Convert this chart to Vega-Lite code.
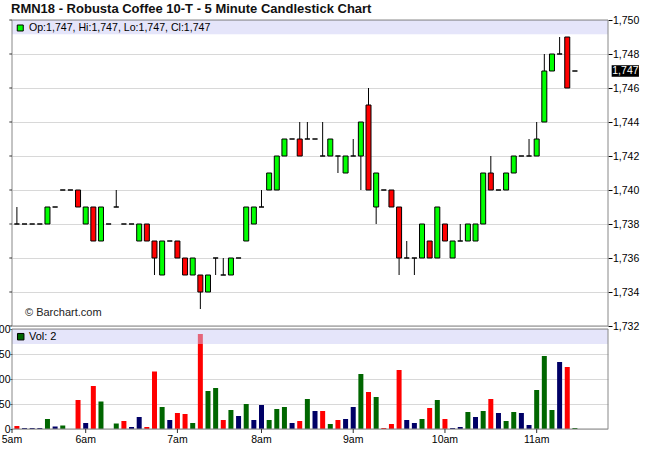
{
  "$schema": "https://vega.github.io/schema/vega-lite/v6.json",
  "width": 596,
  "height": 409,
  "autosize": {"type": "none"},
  "padding": {"left": 12, "top": 20, "right": 42, "bottom": 41},
  "config": {"view": {"stroke": null}, "font": "Liberation Sans"},
  "resolve": {"scale": {"y": "independent"}},
  "datasets": {
    "hours": [
      {"slot": -0.64, "t": "5am"},
      {"slot": 9, "t": "6am"},
      {"slot": 21, "t": "7am"},
      {"slot": 32, "t": "8am"},
      {"slot": 44, "t": "9am"},
      {"slot": 56, "t": "10am"},
      {"slot": 68, "t": "11am"}
    ],
    "pticks": [
      {"p": 1732}, {"p": 1734}, {"p": 1736}, {"p": 1738}, {"p": 1740},
      {"p": 1742}, {"p": 1744}, {"p": 1746}, {"p": 1748}, {"p": 1750}
    ]
  },
  "data": {"values": [
    {"i":0,"o":1738,"h":1739,"l":1738,"c":1738,"v":6,"d":"down"},
    {"i":1,"o":1738,"h":1738,"l":1738,"c":1738,"v":2,"d":"flat"},
    {"i":2,"o":1738,"h":1738,"l":1738,"c":1738,"v":2,"d":"flat"},
    {"i":3,"o":1738,"h":1738,"l":1738,"c":1738,"v":2,"d":"flat"},
    {"i":4,"o":1738,"h":1739,"l":1738,"c":1739,"v":20,"d":"up"},
    {"i":5,"o":1739,"h":1739,"l":1739,"c":1739,"v":5,"d":"flat"},
    {"i":6,"o":1740,"h":1740,"l":1740,"c":1740,"v":7,"d":"up"},
    {"i":7,"o":1740,"h":1740,"l":1740,"c":1740,"v":0,"d":"flat"},
    {"i":8,"o":1740,"h":1740,"l":1739,"c":1739,"v":58,"d":"down"},
    {"i":9,"o":1738,"h":1739,"l":1738,"c":1739,"v":12,"d":"flat"},
    {"i":10,"o":1739,"h":1739,"l":1737,"c":1737,"v":86,"d":"down"},
    {"i":11,"o":1737,"h":1739,"l":1737,"c":1739,"v":55,"d":"up"},
    {"i":12,"o":1738,"h":1738,"l":1738,"c":1738,"v":0,"d":"down"},
    {"i":13,"o":1739,"h":1740,"l":1739,"c":1739,"v":11,"d":"up"},
    {"i":14,"o":1738,"h":1738,"l":1738,"c":1738,"v":16,"d":"down"},
    {"i":15,"o":1738,"h":1738,"l":1738,"c":1738,"v":4,"d":"flat"},
    {"i":16,"o":1737,"h":1738,"l":1737,"c":1738,"v":24,"d":"flat"},
    {"i":17,"o":1738,"h":1738,"l":1737,"c":1737,"v":4,"d":"down"},
    {"i":18,"o":1737,"h":1737,"l":1735,"c":1736,"v":115,"d":"down"},
    {"i":19,"o":1735,"h":1737,"l":1735,"c":1737,"v":44,"d":"up"},
    {"i":20,"o":1737,"h":1737,"l":1737,"c":1737,"v":18,"d":"flat"},
    {"i":21,"o":1737,"h":1737,"l":1736,"c":1736,"v":32,"d":"down"},
    {"i":22,"o":1736,"h":1736,"l":1735,"c":1735,"v":30,"d":"down"},
    {"i":23,"o":1735,"h":1736,"l":1735,"c":1736,"v":12,"d":"up"},
    {"i":24,"o":1735,"h":1735,"l":1733,"c":1734,"v":190,"d":"down"},
    {"i":25,"o":1734,"h":1735,"l":1734,"c":1735,"v":76,"d":"up"},
    {"i":26,"o":1736,"h":1736,"l":1735,"c":1736,"v":82,"d":"up"},
    {"i":27,"o":1735,"h":1736,"l":1735,"c":1735,"v":18,"d":"down"},
    {"i":28,"o":1735,"h":1736,"l":1735,"c":1736,"v":38,"d":"up"},
    {"i":29,"o":1736,"h":1736,"l":1736,"c":1736,"v":26,"d":"flat"},
    {"i":30,"o":1737,"h":1739,"l":1737,"c":1739,"v":50,"d":"up"},
    {"i":31,"o":1738,"h":1739,"l":1738,"c":1739,"v":18,"d":"flat"},
    {"i":32,"o":1739,"h":1740,"l":1739,"c":1739,"v":48,"d":"flat"},
    {"i":33,"o":1740,"h":1741,"l":1740,"c":1741,"v":18,"d":"up"},
    {"i":34,"o":1740,"h":1742,"l":1740,"c":1742,"v":40,"d":"up"},
    {"i":35,"o":1742,"h":1743,"l":1742,"c":1743,"v":44,"d":"up"},
    {"i":36,"o":1743,"h":1743,"l":1743,"c":1743,"v":12,"d":"flat"},
    {"i":37,"o":1743,"h":1744,"l":1742,"c":1742,"v":16,"d":"down"},
    {"i":38,"o":1743,"h":1744,"l":1743,"c":1743,"v":60,"d":"up"},
    {"i":39,"o":1743,"h":1743,"l":1743,"c":1743,"v":36,"d":"flat"},
    {"i":40,"o":1742,"h":1744,"l":1742,"c":1742,"v":36,"d":"down"},
    {"i":41,"o":1742,"h":1743,"l":1742,"c":1743,"v":10,"d":"up"},
    {"i":42,"o":1742,"h":1742,"l":1741,"c":1742,"v":18,"d":"down"},
    {"i":43,"o":1741,"h":1742,"l":1741,"c":1742,"v":20,"d":"flat"},
    {"i":44,"o":1742,"h":1743,"l":1742,"c":1742,"v":44,"d":"flat"},
    {"i":45,"o":1742,"h":1744,"l":1740,"c":1744,"v":110,"d":"up"},
    {"i":46,"o":1745,"h":1746,"l":1740,"c":1740,"v":74,"d":"down"},
    {"i":47,"o":1739,"h":1741,"l":1738,"c":1741,"v":64,"d":"up"},
    {"i":48,"o":1740,"h":1740,"l":1740,"c":1740,"v":2,"d":"down"},
    {"i":49,"o":1740,"h":1740,"l":1739,"c":1739,"v":10,"d":"down"},
    {"i":50,"o":1739,"h":1739,"l":1735,"c":1736,"v":118,"d":"down"},
    {"i":51,"o":1736,"h":1737,"l":1736,"c":1736,"v":18,"d":"flat"},
    {"i":52,"o":1736,"h":1736,"l":1735,"c":1736,"v":12,"d":"flat"},
    {"i":53,"o":1736,"h":1738,"l":1736,"c":1738,"v":20,"d":"up"},
    {"i":54,"o":1737,"h":1737,"l":1736,"c":1736,"v":42,"d":"down"},
    {"i":55,"o":1736,"h":1739,"l":1736,"c":1739,"v":58,"d":"up"},
    {"i":56,"o":1738,"h":1738,"l":1737,"c":1737,"v":20,"d":"down"},
    {"i":57,"o":1736,"h":1737,"l":1736,"c":1737,"v":2,"d":"flat"},
    {"i":58,"o":1737,"h":1738,"l":1737,"c":1737,"v":4,"d":"flat"},
    {"i":59,"o":1737,"h":1738,"l":1737,"c":1738,"v":34,"d":"up"},
    {"i":60,"o":1737,"h":1738,"l":1737,"c":1738,"v":24,"d":"flat"},
    {"i":61,"o":1738,"h":1741,"l":1738,"c":1741,"v":36,"d":"up"},
    {"i":62,"o":1741,"h":1742,"l":1740,"c":1740,"v":60,"d":"down"},
    {"i":63,"o":1740,"h":1740,"l":1740,"c":1740,"v":32,"d":"flat"},
    {"i":64,"o":1740,"h":1741,"l":1740,"c":1741,"v":16,"d":"up"},
    {"i":65,"o":1741,"h":1742,"l":1741,"c":1742,"v":34,"d":"up"},
    {"i":66,"o":1742,"h":1742,"l":1742,"c":1742,"v":32,"d":"flat"},
    {"i":67,"o":1742,"h":1743,"l":1742,"c":1742,"v":8,"d":"flat"},
    {"i":68,"o":1742,"h":1744,"l":1742,"c":1743,"v":78,"d":"up"},
    {"i":69,"o":1744,"h":1748,"l":1744,"c":1747,"v":146,"d":"up"},
    {"i":70,"o":1747,"h":1748,"l":1747,"c":1748,"v":38,"d":"up"},
    {"i":71,"o":1748,"h":1749,"l":1748,"c":1748,"v":134,"d":"flat"},
    {"i":72,"o":1749,"h":1749,"l":1746,"c":1746,"v":124,"d":"down"},
    {"i":73,"o":1747,"h":1747,"l":1747,"c":1747,"v":2,"d":"up"}
  ]},
  "layer": [
    {
      "mark": {"type": "rule", "color": "#000", "strokeWidth": 1},
      "encoding": {
        "x": {"field": "i", "type": "quantitative", "scale": {"domain": [-0.64, 77.33], "nice": false, "zero": false, "padding": 0},
          "axis": {"orient": "bottom", "values": [-0.64, 9, 21, 32, 44, 56, 68], "title": null, "grid": true, "gridColor": "#d8d8d8", "domain": false, "ticks": false, "labels": false}},
        "y": {"field": "l", "type": "quantitative", "scale": {"domain": [1725.9412, 1750], "nice": false, "zero": false},
          "axis": {"orient": "right", "values": [1732, 1734, 1736, 1738, 1740, 1742, 1744, 1746, 1748, 1750], "format": ",", "title": null, "grid": true, "gridColor": "#d8d8d8", "domain": false, "tickSize": 4, "tickColor": "#000", "labelPadding": 0.5, "labelFont": "Liberation Sans", "labelFontSize": 10.5, "labelColor": "#000", "labelOverlap": false}},
        "y2": {"field": "h"}
      }
    },
    {
      "mark": {"type": "bar", "size": 5, "stroke": "#000", "strokeWidth": 1},
      "encoding": {
        "x": {"field": "i", "type": "quantitative", "scale": {"domain": [-0.64, 77.33], "nice": false, "zero": false, "padding": 0}, "axis": null},
        "y": {"field": "o", "type": "quantitative", "scale": {"domain": [1725.9412, 1750], "nice": false, "zero": false}, "axis": null},
        "y2": {"field": "c"},
        "fill": {"condition": {"test": "datum.c > datum.o", "value": "#00FF00"}, "value": "#FF0000"}
      }
    },
    {
      "mark": {"type": "bar", "size": 5},
      "encoding": {
        "x": {"field": "i", "type": "quantitative", "scale": {"domain": [-0.64, 77.33], "nice": false, "zero": false, "padding": 0}, "axis": null},
        "y": {"field": "v", "type": "quantitative", "stack": null, "scale": {"domain": [0, 818], "nice": false},
          "axis": {"orient": "left", "values": [0, 50, 100, 150, 200], "format": "d", "title": null, "grid": true, "gridColor": "#d8d8d8", "domain": false, "tickSize": 2, "tickColor": "#333", "labelPadding": 0, "labelFont": "Liberation Sans", "labelFontSize": 10.5, "labelColor": "#000", "labelOverlap": false}},
        "color": {"field": "d", "type": "nominal", "scale": {"domain": ["up", "down", "flat"], "range": ["#006600", "#FF0000", "#000066"]}, "legend": null}
      }
    },
    {
      "data": {"values": [{"panel": "price"}]},
      "mark": {"type": "rect", "fill": "#CBCBF5", "opacity": 0.5},
      "encoding": {
        "x": {"datum": -0.64, "type": "quantitative", "scale": {"domain": [-0.64, 77.33], "nice": false, "zero": false, "padding": 0}, "axis": null},
        "x2": {"datum": 77.33},
        "y": {"datum": 1750, "type": "quantitative", "scale": {"domain": [1725.9412, 1750], "nice": false, "zero": false}, "axis": null},
        "y2": {"datum": 1749.16}
      }
    },
    {
      "data": {"values": [{"panel": "volume"}]},
      "mark": {"type": "rect", "fill": "#CBCBF5", "opacity": 0.5},
      "encoding": {
        "x": {"datum": -0.64, "type": "quantitative", "scale": {"domain": [-0.64, 77.33], "nice": false, "zero": false, "padding": 0}, "axis": null},
        "x2": {"datum": 77.33},
        "y": {"datum": 200, "type": "quantitative", "scale": {"domain": [0, 818], "nice": false}, "axis": null},
        "y2": {"datum": 170}
      }
    },
    {
      "data": {"values": [{"panel": "price"}]},
      "mark": {"type": "rect", "filled": false, "stroke": "#888", "strokeWidth": 1},
      "encoding": {
        "x": {"datum": -0.64, "type": "quantitative", "scale": {"domain": [-0.64, 77.33], "nice": false, "zero": false, "padding": 0}, "axis": null},
        "x2": {"datum": 77.33},
        "y": {"datum": 1750, "type": "quantitative", "scale": {"domain": [1725.9412, 1750], "nice": false, "zero": false}, "axis": null},
        "y2": {"datum": 1732}
      }
    },
    {
      "data": {"values": [{"panel": "volume"}]},
      "mark": {"type": "rect", "filled": false, "stroke": "#888", "strokeWidth": 1},
      "encoding": {
        "x": {"datum": -0.64, "type": "quantitative", "scale": {"domain": [-0.64, 77.33], "nice": false, "zero": false, "padding": 0}, "axis": null},
        "x2": {"datum": 77.33},
        "y": {"datum": 200, "type": "quantitative", "scale": {"domain": [0, 818], "nice": false}, "axis": null},
        "y2": {"datum": 0}
      }
    },
    {
      "data": {"name": "pticks"},
      "mark": {"type": "rule", "color": "#333", "strokeWidth": 1},
      "encoding": {
        "x": {"datum": -0.99, "type": "quantitative", "scale": {"domain": [-0.64, 77.33], "nice": false, "zero": false, "padding": 0}, "axis": null},
        "x2": {"datum": -0.64},
        "y": {"field": "p", "type": "quantitative", "scale": {"domain": [1725.9412, 1750], "nice": false, "zero": false}, "axis": null}
      }
    },
    {
      "data": {"name": "hours"},
      "mark": {"type": "rule", "color": "#333", "strokeWidth": 1},
      "encoding": {
        "x": {"field": "slot", "type": "quantitative", "scale": {"domain": [-0.64, 77.33], "nice": false, "zero": false, "padding": 0}, "axis": null},
        "y": {"datum": 0, "type": "quantitative", "scale": {"domain": [0, 818], "nice": false}, "axis": null},
        "y2": {"datum": -8}
      }
    },
    {
      "data": {"name": "hours"},
      "mark": {"type": "text", "align": "center", "baseline": "alphabetic", "font": "Liberation Sans", "fontSize": 10.5, "color": "#000"},
      "encoding": {
        "x": {"field": "slot", "type": "quantitative", "scale": {"domain": [-0.64, 77.33], "nice": false, "zero": false, "padding": 0}, "axis": null},
        "y": {"datum": -28.6, "type": "quantitative", "scale": {"domain": [0, 818], "nice": false}, "axis": null},
        "text": {"field": "t"}
      }
    },
    {
      "data": {"values": [{"label": "RMN18 - Robusta Coffee 10-T - 5 Minute Candlestick Chart"}]},
      "mark": {"type": "text", "align": "left", "baseline": "alphabetic", "font": "Liberation Sans", "fontSize": 13, "fontWeight": "bold", "color": "#111"},
      "encoding": {
        "x": {"datum": -0.77, "type": "quantitative", "scale": {"domain": [-0.64, 77.33], "nice": false, "zero": false, "padding": 0}, "axis": null},
        "y": {"datum": 1750.394, "type": "quantitative", "scale": {"domain": [1725.9412, 1750], "nice": false, "zero": false}, "axis": null},
        "text": {"field": "label"}
      }
    },
    {
      "data": {"values": [{"label": "Op:1,747, Hi:1,747, Lo:1,747, Cl:1,747"}]},
      "mark": {"type": "point", "shape": "square", "size": 36, "filled": true, "fill": "#00FF00", "stroke": "#000", "strokeWidth": 1, "opacity": 1},
      "encoding": {
        "x": {"datum": 0.44, "type": "quantitative", "scale": {"domain": [-0.64, 77.33], "nice": false, "zero": false, "padding": 0}, "axis": null},
        "y": {"datum": 1749.53, "type": "quantitative", "scale": {"domain": [1725.9412, 1750], "nice": false, "zero": false}, "axis": null}
      }
    },
    {
      "data": {"values": [{"label": "Op:1,747, Hi:1,747, Lo:1,747, Cl:1,747"}]},
      "mark": {"type": "text", "align": "left", "baseline": "middle", "font": "Liberation Sans", "fontSize": 10.6, "color": "#000"},
      "encoding": {
        "x": {"datum": 1.58, "type": "quantitative", "scale": {"domain": [-0.64, 77.33], "nice": false, "zero": false, "padding": 0}, "axis": null},
        "y": {"datum": 1749.53, "type": "quantitative", "scale": {"domain": [1725.9412, 1750], "nice": false, "zero": false}, "axis": null},
        "text": {"field": "label"}
      }
    },
    {
      "data": {"values": [{"label": "Vol: 2"}]},
      "mark": {"type": "point", "shape": "square", "size": 42, "filled": true, "fill": "#006600", "stroke": "#000", "strokeWidth": 1, "opacity": 1},
      "encoding": {
        "x": {"datum": 0.5, "type": "quantitative", "scale": {"domain": [-0.64, 77.33], "nice": false, "zero": false, "padding": 0}, "axis": null},
        "y": {"datum": 184.6, "type": "quantitative", "scale": {"domain": [0, 818], "nice": false}, "axis": null}
      }
    },
    {
      "data": {"values": [{"label": "Vol: 2"}]},
      "mark": {"type": "text", "align": "left", "baseline": "middle", "font": "Liberation Sans", "fontSize": 11, "color": "#000"},
      "encoding": {
        "x": {"datum": 1.58, "type": "quantitative", "scale": {"domain": [-0.64, 77.33], "nice": false, "zero": false, "padding": 0}, "axis": null},
        "y": {"datum": 184.6, "type": "quantitative", "scale": {"domain": [0, 818], "nice": false}, "axis": null},
        "text": {"field": "label"}
      }
    },
    {
      "data": {"values": [{"label": "© Barchart.com"}]},
      "mark": {"type": "text", "align": "left", "baseline": "middle", "font": "Liberation Sans", "fontSize": 11, "color": "#222"},
      "encoding": {
        "x": {"datum": 1.06, "type": "quantitative", "scale": {"domain": [-0.64, 77.33], "nice": false, "zero": false, "padding": 0}, "axis": null},
        "y": {"datum": 1732.75, "type": "quantitative", "scale": {"domain": [1725.9412, 1750], "nice": false, "zero": false}, "axis": null},
        "text": {"field": "label"}
      }
    },
    {
      "data": {"values": [{"label": "1,747"}]},
      "mark": {"type": "rect", "fill": "#000"},
      "encoding": {
        "x": {"datum": 77.81, "type": "quantitative", "scale": {"domain": [-0.64, 77.33], "nice": false, "zero": false, "padding": 0}, "axis": null},
        "x2": {"datum": 81.38},
        "y": {"datum": 1747.34, "type": "quantitative", "scale": {"domain": [1725.9412, 1750], "nice": false, "zero": false}, "axis": null},
        "y2": {"datum": 1746.66}
      }
    },
    {
      "data": {"values": [{"label": "1,747"}]},
      "mark": {"type": "text", "align": "left", "baseline": "middle", "font": "Liberation Sans", "fontSize": 10.5, "color": "#fff"},
      "encoding": {
        "x": {"datum": 77.89, "type": "quantitative", "scale": {"domain": [-0.64, 77.33], "nice": false, "zero": false, "padding": 0}, "axis": null},
        "y": {"datum": 1747, "type": "quantitative", "scale": {"domain": [1725.9412, 1750], "nice": false, "zero": false}, "axis": null},
        "text": {"field": "label"}
      }
    }
  ]
}
